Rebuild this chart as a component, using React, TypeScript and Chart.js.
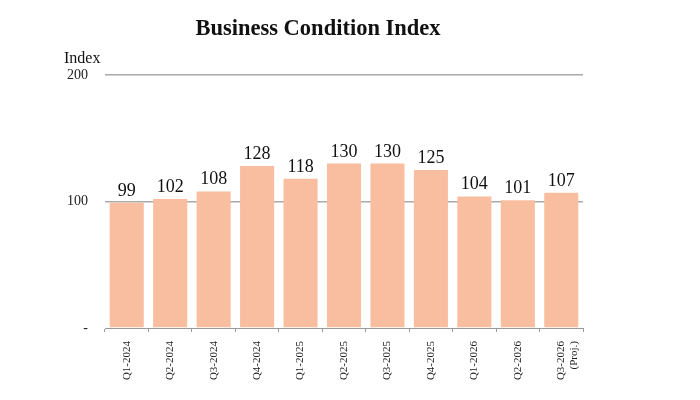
import React, { useEffect, useRef } from "react";
import { Chart, registerables } from "chart.js";

Chart.register(...registerables);

const categories: (string | string[])[] = [
  "Q1-2024", "Q2-2024", "Q3-2024", "Q4-2024", "Q1-2025", "Q2-2025",
  "Q3-2025", "Q4-2025", "Q1-2026", "Q2-2026", ["Q3-2026", "(Proj.)"],
];
const indexValues = [99, 102, 108, 128, 118, 130, 130, 125, 104, 101, 107];
const yTicks = [0, 100, 200];
const yTickLabels = ["-", "100", "200"];
const titleText = "Business Condition Index";
const axisTitle = "Index";

const SERIF = "'Liberation Serif', 'DejaVu Serif', serif";

const labelsPlugin = {
  id: "barLabels",
  afterDatasetsDraw(chart: any) {
    const ctx = chart.ctx;
    const meta = chart.getDatasetMeta(0);
    ctx.save();
    ctx.font = `18px ${SERIF}`;
    ctx.fillStyle = "#111";
    ctx.textAlign = "center";
    ctx.textBaseline = "alphabetic";
    meta.data.forEach((bar: any, i: number) => {
      ctx.fillText(String(indexValues[i]), bar.x, bar.y - 7);
    });
    ctx.restore();
  },
  afterDraw(chart: any) {
    const ctx = chart.ctx;
    ctx.save();
    ctx.fillStyle = "#111";
    ctx.textAlign = "center";
    ctx.textBaseline = "alphabetic";
    ctx.font = `bold 22.5px ${SERIF}`;
    ctx.fillText(titleText, 318, 35);
    ctx.font = `16px ${SERIF}`;
    ctx.textAlign = "left";
    ctx.fillText(axisTitle, 64, 63);
    ctx.restore();
  },
};

export default function App() {
  const ref = useRef<HTMLCanvasElement | null>(null);
  useEffect(() => {
    if (!ref.current) return;
    const chart = new Chart(ref.current, {
      type: "bar",
      data: {
        labels: categories,
        datasets: [
          {
            data: indexValues,
            backgroundColor: "#F9BE9F",
            borderWidth: 0,
            categoryPercentage: 0.8,
            barPercentage: 0.98,
          },
        ],
      },
      options: {
        animation: false,
        responsive: true,
        maintainAspectRatio: false,
        layout: { padding: { top: 75, right: 117, left: 60, bottom: 0 } },
        plugins: { legend: { display: false }, tooltip: { enabled: false }, title: { display: false } },
        scales: {
          x: {
            offset: true,
            grid: { display: true, offset: true, drawOnChartArea: false, drawTicks: true, tickLength: 4, color: "#999" },
            border: { display: true, color: "#999", width: 1 },
            ticks: {
              minRotation: 90,
              maxRotation: 90,
              autoSkip: false,
              color: "#222",
              font: { family: SERIF, size: 11 },
              padding: 9,
            },
            afterFit: (s: any) => { s.height = 72; },
          },
          y: {
            min: 0,
            max: 200,
            afterBuildTicks: (s: any) => { s.ticks = yTicks.map((v) => ({ value: v })); },
            ticks: {
              color: "#222",
              font: { family: SERIF, size: 14 },
              padding: 17,
              callback: (v: any) => yTickLabels[yTicks.indexOf(Number(v))] ?? "",
            },
            grid: {
              drawTicks: false,
              color: (c: any) => (c.tick && c.tick.value === 0 ? "rgba(0,0,0,0)" : "#aaa"),
              lineWidth: 1.5,
            },
            border: { display: false },
            afterFit: (s: any) => { s.width = 45; },
          },
        },
      },
      plugins: [labelsPlugin],
    });
    return () => chart.destroy();
  }, []);
  return (
    <div style={{ position: "absolute", left: 0, top: 0, width: 700, height: 400, background: "#fff" }}>
      <canvas ref={ref} />
    </div>
  );
}
